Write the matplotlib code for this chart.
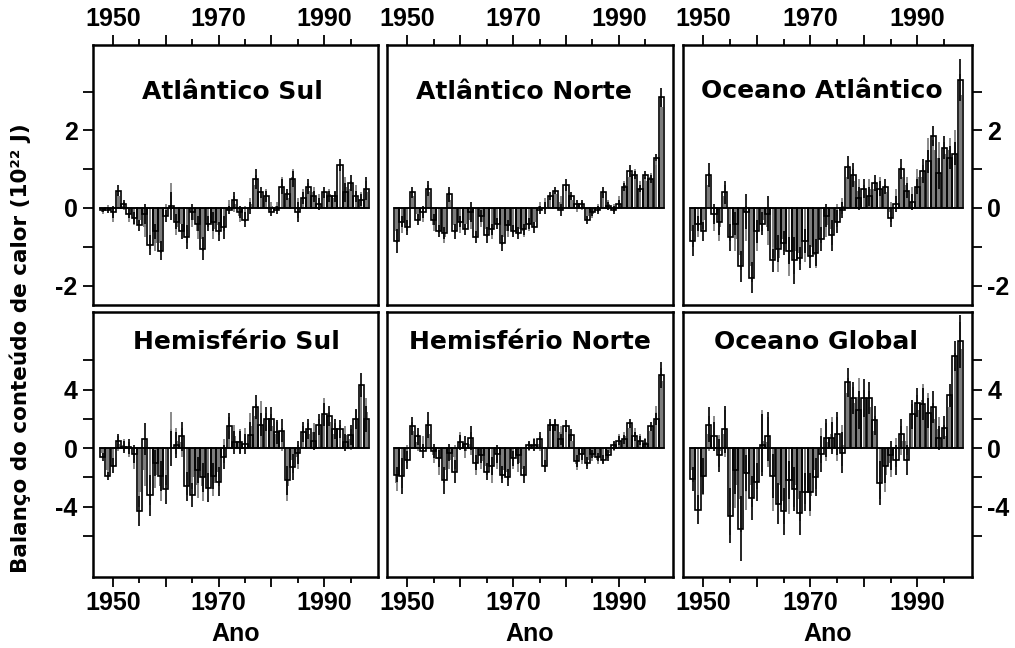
import numpy as np
import matplotlib
matplotlib.use("Agg")
import matplotlib.pyplot as plt
from matplotlib.ticker import FixedLocator, FuncFormatter

years = np.arange(1948, 1999)

titles = ["Atlântico Sul", "Atlântico Norte", "Oceano Atlântico",
          "Hemisfério Sul", "Hemisfério Norte", "Oceano Global"]

# ---- Atlântico Sul ----
as_outline = [-0.05,-0.05,-0.1,0.45,0.1,-0.15,-0.25,-0.45,-0.15,-0.95,-0.6,-1.1,-0.2,0.05,-0.35,-0.6,-0.75,-0.1,-0.4,-1.05,
              -0.4,-0.35,-0.6,-0.5,-0.05,0.2,-0.1,-0.3,0.0,0.75,0.4,0.3,-0.1,-0.05,0.55,0.35,0.75,-0.1,0.25,0.55,
              0.3,0.1,0.4,0.3,0.3,1.1,0.4,0.65,0.3,0.2,0.5]
as_gray = [-0.1,0.0,-0.2,0.3,0.05,-0.25,-0.3,-0.3,-0.5,-0.8,-0.9,-0.9,-0.05,0.3,-0.5,-0.4,-0.6,-0.3,-0.6,-0.8,
           -0.3,-0.55,-0.45,-0.3,0.1,0.1,-0.2,-0.15,0.1,0.6,0.3,0.35,0.05,0.05,0.6,0.25,0.8,0.0,0.35,0.45,
           0.4,0.2,0.3,0.35,0.25,0.95,0.55,0.5,0.45,0.25,0.4]
as_err = [0.05,0.08,0.15,0.15,0.1,0.12,0.15,0.15,0.25,0.25,0.2,0.25,0.15,0.35,0.2,0.2,0.3,0.2,0.2,0.3,
          0.2,0.25,0.25,0.3,0.1,0.2,0.15,0.2,0.15,0.25,0.15,0.15,0.1,0.1,0.2,0.15,0.2,0.25,0.15,0.2,
          0.15,0.15,0.15,0.15,0.15,0.15,0.25,0.2,0.15,0.15,0.3]

# ---- Atlântico Norte ----
an_outline = [-0.85,-0.35,-0.5,0.4,-0.3,-0.1,0.5,-0.3,-0.6,-0.65,0.35,-0.6,-0.35,-0.55,-0.1,-0.75,-0.2,-0.7,-0.55,-0.4,
              -0.9,-0.45,-0.6,-0.65,-0.55,-0.4,-0.5,-0.05,0.0,0.3,0.45,-0.05,0.6,0.3,0.1,0.1,-0.3,-0.1,-0.05,0.4,
              0.05,-0.05,0.1,0.55,0.95,0.85,0.5,0.85,0.75,1.3,2.85]
an_gray = [-0.6,-0.5,-0.4,0.3,-0.15,-0.2,0.4,-0.45,-0.5,-0.75,0.2,-0.45,-0.5,-0.4,-0.3,-0.6,-0.35,-0.55,-0.65,-0.3,
           -0.75,-0.6,-0.5,-0.55,-0.6,-0.45,-0.35,0.05,0.1,0.2,0.35,0.15,0.45,0.2,0.0,0.05,-0.2,-0.15,0.0,0.3,
           0.1,0.0,0.2,0.6,0.8,0.9,0.6,0.7,0.8,1.1,2.6]
an_err = [0.3,0.15,0.2,0.15,0.15,0.15,0.2,0.15,0.15,0.15,0.2,0.2,0.15,0.15,0.25,0.15,0.15,0.2,0.15,0.15,
          0.2,0.15,0.15,0.15,0.15,0.15,0.15,0.1,0.15,0.1,0.1,0.15,0.15,0.1,0.1,0.1,0.1,0.1,0.1,0.15,
          0.1,0.1,0.1,0.1,0.15,0.1,0.1,0.1,0.1,0.1,0.25]

# ---- Oceano Atlântico ----
oa_outline = [-0.85,-0.4,-0.6,0.85,-0.15,-0.35,0.4,-0.75,-0.4,-1.5,-0.1,-1.8,-0.6,-0.4,-0.15,-1.35,-1.05,-0.9,-1.1,-1.35,
              -1.3,-0.85,-1.25,-1.15,-0.8,-0.2,-0.7,-0.35,-0.05,1.05,0.85,0.25,0.5,0.3,0.65,0.5,0.55,-0.25,0.1,1.0,
              0.45,0.15,0.55,0.95,1.2,1.85,0.9,1.55,1.3,1.4,3.3]
oa_gray = [-0.6,-0.55,-0.3,0.6,-0.35,-0.5,0.3,-0.5,-0.8,-1.2,-0.4,-1.5,-0.8,-0.3,-0.5,-1.0,-1.3,-0.8,-1.4,-1.1,
           -1.15,-1.1,-1.0,-1.2,-0.6,-0.45,-0.55,-0.2,0.05,0.8,0.7,0.45,0.35,0.5,0.5,0.6,0.4,-0.1,0.3,0.8,
           0.6,0.35,0.8,0.8,1.5,1.5,1.3,1.4,1.5,1.7,2.9]
oa_err = [0.4,0.2,0.25,0.3,0.25,0.35,0.3,0.35,0.3,0.4,0.45,0.4,0.3,0.3,0.45,0.3,0.35,0.3,0.35,0.6,
          0.3,0.3,0.3,0.35,0.3,0.3,0.4,0.3,0.2,0.3,0.3,0.3,0.25,0.25,0.2,0.2,0.2,0.25,0.2,0.25,
          0.2,0.2,0.2,0.3,0.3,0.25,0.4,0.3,0.3,0.3,0.55]

# ---- Hemisfério Sul ----
hs_outline = [-0.6,-1.9,-1.2,0.5,0.1,0.1,-0.4,-4.3,0.6,-3.2,-1.0,-1.9,-2.8,0.0,0.2,0.8,-2.6,-3.2,-1.5,-2.0,
              -2.7,-1.9,-2.3,-0.6,1.5,0.4,0.4,0.3,0.9,2.8,1.6,2.0,2.0,1.1,1.2,-2.2,-1.3,-0.3,1.1,1.3,
              0.5,1.6,2.3,2.2,1.3,1.3,0.4,0.9,2.0,4.3,2.0]
hs_gray = [-0.3,-1.5,-0.8,0.3,0.2,-0.1,-0.8,-3.0,-1.5,-2.5,-1.8,-2.6,-1.5,1.3,0.5,0.4,-2.2,-2.0,-2.5,-2.6,
           -1.8,-2.4,-1.6,-0.2,1.2,0.8,0.5,0.7,1.5,2.2,2.4,1.6,1.5,1.0,0.6,-2.6,-0.8,-0.6,0.8,1.0,
           1.1,1.3,2.6,1.8,1.0,1.0,0.9,0.6,1.9,3.6,2.5]
hs_err = [0.3,0.3,0.5,0.5,0.4,0.5,0.6,1.0,1.1,1.4,0.9,1.0,1.0,1.2,0.9,1.0,1.0,0.8,0.9,1.0,
          1.0,0.9,1.0,0.8,0.9,0.8,0.8,0.7,0.9,0.8,0.8,0.8,0.8,0.8,0.8,1.0,0.9,0.8,0.7,0.7,
          0.6,0.7,0.8,0.7,0.7,0.6,0.6,0.7,0.7,0.8,0.9]

# ---- Hemisfério Norte ----
hn_outline = [-1.8,-1.9,-0.8,1.5,0.8,-0.2,1.6,-0.2,-0.7,-2.2,-0.3,-1.6,0.4,0.3,0.7,-1.0,-0.5,-1.6,-1.2,-0.4,
              -1.8,-2.0,-0.7,-0.5,-1.8,0.2,0.2,0.6,-1.2,1.6,1.6,0.6,1.5,0.9,-0.9,-0.4,-1.0,-0.4,-0.6,-0.8,
              -0.5,0.2,0.5,0.6,1.7,0.8,0.5,0.3,1.5,2.0,5.0]
hn_gray = [-2.4,-1.5,-0.4,1.2,0.4,0.3,1.0,-0.5,-1.2,-1.5,-0.8,-0.6,0.6,-0.2,0.3,-1.3,-0.9,-1.2,-1.8,-0.8,
           -1.5,-1.6,-0.9,-1.0,-1.4,0.1,0.3,0.3,-0.9,1.4,1.5,1.1,1.2,0.5,-1.1,-0.7,-0.8,-0.6,-0.8,-0.7,
           -0.3,0.1,0.7,0.8,1.4,1.1,0.7,0.4,1.2,2.5,4.6]
hn_err = [0.5,1.2,0.6,0.6,0.6,0.5,0.9,0.5,0.6,0.9,0.6,0.8,0.5,0.5,0.8,0.5,0.5,0.6,0.6,0.6,
          0.6,0.6,0.5,0.6,0.6,0.3,0.4,0.5,0.4,0.4,0.4,0.4,0.4,0.4,0.4,0.4,0.4,0.3,0.3,0.3,
          0.4,0.3,0.3,0.3,0.3,0.3,0.3,0.3,0.3,0.4,0.9]

# ---- Oceano Global ----
og_outline = [-2.1,-4.2,-1.9,1.6,0.8,-0.5,1.3,-4.6,-1.5,-5.5,-1.7,-3.4,-2.3,0.2,0.8,-1.9,-3.8,-4.3,-2.2,-2.8,
              -4.4,-3.0,-3.0,-2.0,-0.4,0.7,0.7,1.0,-0.3,4.5,3.4,2.6,3.4,3.4,1.9,-2.4,-1.2,-0.5,-0.8,1.0,
              -0.8,2.3,3.1,3.0,2.4,2.8,0.7,1.4,3.6,6.3,7.3]
og_gray = [-1.5,-3.2,-2.0,1.0,1.2,-0.2,1.0,-4.0,-2.5,-3.5,-3.0,-2.5,-1.5,0.5,0.4,-2.8,-2.5,-3.6,-3.2,-2.5,
           -3.5,-2.5,-3.3,-1.5,0.2,0.4,1.0,0.6,0.2,3.8,3.1,3.5,2.7,2.8,1.2,-2.0,-1.8,-1.0,-0.3,0.5,
           0.5,2.0,2.6,3.3,2.8,2.0,1.3,0.8,2.8,5.5,6.8]
og_err = [0.8,1.0,1.2,1.2,1.0,1.1,1.6,1.9,1.6,2.2,1.2,1.5,1.3,2.1,1.7,1.5,1.4,1.6,1.3,1.5,
          1.5,1.3,1.3,1.3,1.2,1.3,1.1,1.5,1.4,1.0,1.1,1.3,1.3,1.1,1.0,1.5,1.2,1.0,1.0,1.0,
          1.0,1.0,1.0,1.1,1.0,1.1,0.8,0.8,0.8,1.0,1.8]

outlines = [as_outline, an_outline, oa_outline, hs_outline, hn_outline, og_outline]
grays = [as_gray, an_gray, oa_gray, hs_gray, hn_gray, og_gray]
errs = [as_err, an_err, oa_err, hs_err, hn_err, og_err]

top_yticks = [-2, -1, 0, 1, 2, 3]
top_ylabels = [-2, 0, 2]
bot_yticks = [-6, -4, -2, 0, 2, 4, 6]
bot_ylabels = [-4, 0, 4]
xticks_major = [1950, 1960, 1970, 1980, 1990]
xticks_minor = [1955, 1965, 1975, 1985, 1995]
xlabels = [1950, 1970, 1990]

W, H = 1015, 648
fig = plt.figure(figsize=(W / 100, H / 100), dpi=100)

cols = [(93, 378), (387, 673), (683, 972)]
rows = [(45, 305), (312, 577)]
title_pos = [(0.491, 0.82), (0.479, 0.82), (0.481, 0.825),
             (0.502, 0.885), (0.5, 0.885), (0.46, 0.885)]

tickfont = dict(family="Liberation Sans", weight="bold", size=18)

for i in range(6):
    r, c = divmod(i, 3)
    x0, x1 = cols[c]
    y0, y1 = rows[r]
    ax = fig.add_axes([x0 / W, 1 - y1 / H, (x1 - x0) / W, (y1 - y0) / H])
    yrs = years
    g = np.array(grays[i]); o = np.array(outlines[i]); e = np.array(errs[i])
    ax.errorbar(yrs, g, yerr=e, fmt="none", ecolor="#8a8a8a", elinewidth=1.4, zorder=2)
    ax.bar(yrs, g, width=0.5, color="#7c7c7c", zorder=2.5)
    ax.bar(yrs, o, width=0.95, facecolor="none", edgecolor="black", linewidth=1.2, zorder=3)
    ax.errorbar(yrs, o, yerr=e, fmt="none", ecolor="black", elinewidth=1.2, zorder=3.5)
    ax.plot([yrs[0] - 0.5, yrs[-1] + 0.5], [0, 0], color="black", lw=1.1, zorder=4)

    ax.set_xlim(1946.2, 2000.2)
    if r == 0:
        ax.set_ylim(-2.5, 4.2)
        yt, yl = top_yticks, top_ylabels
    else:
        ax.set_ylim(-8.8, 9.3)
        yt, yl = bot_yticks, bot_ylabels

    for s in ax.spines.values():
        s.set_linewidth(1.8)

    ax.xaxis.set_major_locator(FixedLocator(xticks_major))
    ax.xaxis.set_minor_locator(FixedLocator(xticks_minor))
    ax.xaxis.set_major_formatter(FuncFormatter(lambda v, p: str(int(v)) if int(round(v)) in xlabels else ""))
    if r == 0:
        ax.tick_params(axis="x", which="both", direction="out", top=True, bottom=False,
                       labeltop=True, labelbottom=False)
    else:
        ax.tick_params(axis="x", which="both", direction="out", top=False, bottom=True,
                       labeltop=False, labelbottom=True)
    ax.tick_params(axis="x", which="major", length=7, width=1.3, pad=3)
    ax.tick_params(axis="x", which="minor", length=4, width=1.3)

    ax.yaxis.set_major_locator(FixedLocator(yt))
    ax.yaxis.set_major_formatter(FuncFormatter(lambda v, p, yl=yl: str(int(round(v))) if int(round(v)) in yl else ""))
    if c == 0:
        ax.tick_params(axis="y", left=True, right=False, labelleft=True, labelright=False)
    elif c == 2:
        ax.tick_params(axis="y", left=False, right=True, labelleft=False, labelright=True)
    else:
        ax.tick_params(axis="y", left=False, right=False, labelleft=False, labelright=False)
    ax.tick_params(axis="y", direction="out", length=7, width=1.3, pad=4)

    for lab in ax.get_xticklabels() + ax.get_yticklabels():
        lab.set_fontfamily(tickfont["family"])
        lab.set_fontweight("bold")
        lab.set_fontsize(tickfont["size"])

    tx, ty = title_pos[i]
    ax.text(tx, ty, titles[i], transform=ax.transAxes, ha="center", va="center",
            fontfamily="DejaVu Sans", fontweight="heavy", fontsize=18, zorder=6)

    if r == 1:
        ax.text(0.5, -0.215, "Ano", transform=ax.transAxes, ha="center", va="center",
                fontfamily="Liberation Sans", fontweight="bold", fontsize=18)

fig.text(0.0197, 0.463, "Balanço do conteúdo de calor (10²² J)", rotation=90,
         ha="center", va="center", fontfamily="DejaVu Sans", fontweight="heavy", fontsize=15.5)

fig.savefig("out.png", dpi=100, facecolor="white")
